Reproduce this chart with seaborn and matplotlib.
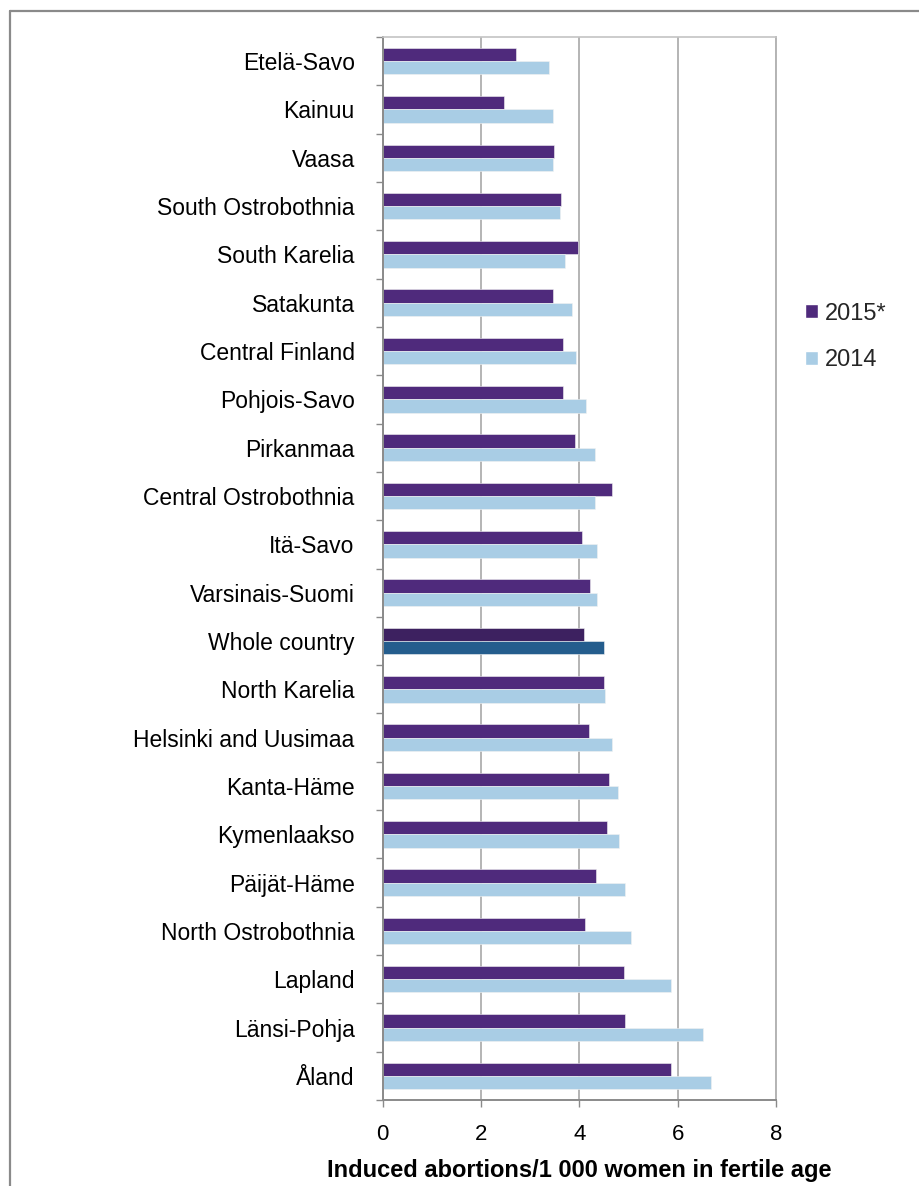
import numpy as np
import pandas as pd
import matplotlib
matplotlib.use("Agg")
import matplotlib.pyplot as plt
import seaborn as sns
from matplotlib.lines import Line2D
from matplotlib.patches import Patch

# Induced abortions per 1 000 women in fertile age, by hospital district
regions = [
    "Etelä-Savo", "Kainuu", "Vaasa", "South Ostrobothnia", "South Karelia",
    "Satakunta", "Central Finland", "Pohjois-Savo", "Pirkanmaa",
    "Central Ostrobothnia", "Itä-Savo", "Varsinais-Suomi", "Whole country",
    "North Karelia", "Helsinki and Uusimaa", "Kanta-Häme", "Kymenlaakso",
    "Päijät-Häme", "North Ostrobothnia", "Lapland", "Länsi-Pohja", "Åland",
]
rate_2015 = [2.71, 2.46, 3.49, 3.63, 3.97, 3.47, 3.66, 3.66, 3.91, 4.67, 4.06,
             4.22, 4.09, 4.51, 4.20, 4.60, 4.57, 4.35, 4.12, 4.90, 4.92, 5.86]
rate_2014 = [3.38, 3.47, 3.47, 3.61, 3.72, 3.86, 3.93, 4.14, 4.32, 4.32, 4.37,
             4.37, 4.51, 4.53, 4.66, 4.78, 4.80, 4.94, 5.06, 5.86, 6.52, 6.68]
years = ["2015*", "2014"]
highlight = "Whole country"
x_ticks = [0, 2, 4, 6, 8]
x_label = "Induced abortions/1 000 women in fertile age"

n = len(regions)
df = pd.DataFrame({
    "region": regions * 2,
    "year": [years[0]] * n + [years[1]] * n,
    "rate": rate_2015 + rate_2014,
})

c2015, c2014 = "#4f2a7c", "#a9cde5"
c2015_hl, c2014_hl = "#3d2160", "#245d8d"
axis_grey = "#8a8a8a"
grid_grey = "#b4b4b4"

sns.set_theme(style="white")
plt.rcParams["font.family"] = ["Liberation Sans", "DejaVu Sans"]

W, H = 919, 1186
fig = plt.figure(figsize=(W / 100, H / 100), dpi=100)
ax = fig.add_axes([382.5 / W, 1 - 1100 / H, (776 - 382.5) / W, (1100 - 37) / H])

sns.barplot(
    data=df, y="region", x="rate", hue="year", order=regions, hue_order=years,
    palette=[c2015, c2014], width=0.55, orient="h", saturation=1,
    edgecolor="#f2f2f2", linewidth=0.4, legend=False, ax=ax,
)

# the national total gets darker shades
idx = regions.index(highlight)
ax.containers[0][idx].set_facecolor(c2015_hl)
ax.containers[1][idx].set_facecolor(c2014_hl)

ax.set_xlim(x_ticks[0], x_ticks[-1])
ax.set_ylim(n - 0.5, -0.5)
ax.set_xticks(x_ticks)
ax.set_xticklabels([str(t) for t in x_ticks])
ax.set_yticks(np.arange(-0.5, n, 1.0), minor=True)

ax.xaxis.grid(True, color=grid_grey, linewidth=1.4)
ax.yaxis.grid(False)
ax.set_axisbelow(True)

for side in ("left", "bottom"):
    ax.spines[side].set_color(axis_grey)
    ax.spines[side].set_linewidth(1.4)
ax.spines["top"].set_color("#c4c4c4")
ax.spines["top"].set_linewidth(1.2)
ax.spines["right"].set_color(grid_grey)
ax.spines["right"].set_linewidth(1.4)

ax.tick_params(axis="y", which="major", left=False, length=0, pad=20,
               labelsize=16.5, labelcolor="black")
ax.tick_params(axis="y", which="minor", left=True, length=5, width=1,
               color=axis_grey, direction="out")
ax.tick_params(axis="x", which="major", bottom=True, length=5, width=1,
               color=axis_grey, direction="out", pad=12, labelsize=16,
               labelcolor="black")

ax.set_ylabel("")
ax.set_xlabel(x_label, fontsize=17, fontweight="bold", color="black", labelpad=10)

handles = [Patch(facecolor=c2015, label=years[0]), Patch(facecolor=c2014, label=years[1])]
fig.legend(
    handles=handles, loc="center left", bbox_to_anchor=(805 / W, 1 - 337 / H),
    frameon=False, fontsize=17, handlelength=0.55, handleheight=0.55,
    handletextpad=0.3, labelspacing=1.05, borderpad=0, borderaxespad=0,
)

# frame around the chart area
fig.add_artist(Line2D([10 / W, 10 / W], [0, 1 - 11 / H], transform=fig.transFigure,
                      color=axis_grey, linewidth=1.6))
fig.add_artist(Line2D([10 / W, 1], [1 - 11 / H, 1 - 11 / H], transform=fig.transFigure,
                      color=axis_grey, linewidth=1.6))

fig.savefig("out.png", dpi=100)
